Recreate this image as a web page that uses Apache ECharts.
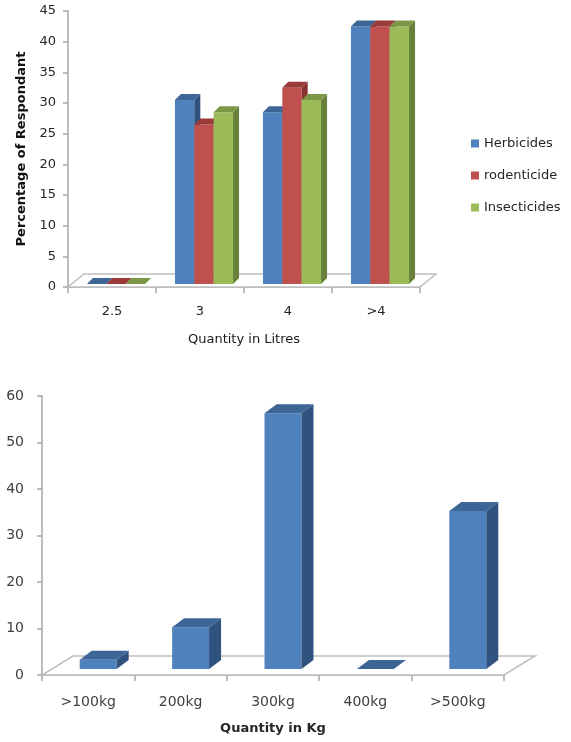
<!DOCTYPE html>
<html><head><meta charset="utf-8">
<script src="https://cdn.jsdelivr.net/npm/echarts@6/dist/echarts.min.js"></script>
<style>html,body{margin:0;padding:0;background:#fff}#c{width:571px;height:742px}</style>
</head><body><div id="c"></div>
<script>
// ---- data ----
const litreCats = ['2.5', '3', '4', '>4'];
const herbicides = [0, 30, 28, 42];
const rodenticide = [0, 26, 32, 42];
const insecticides = [0, 28, 30, 42];
const litreAxisMax = 45, litreAxisStep = 5;

const kgCats = ['>100kg', '200kg', '300kg', '400kg', '>500kg'];
const kgValues = [2, 9, 55, 0, 34];
const kgAxisMax = 60, kgAxisStep = 10;

// ---- styles ----
const FONT = '"DejaVu Sans", Verdana, sans-serif';
const palette = {
  blue:  {front: '#4F81BD', top: '#3D6697', side: '#30527F'},
  red:   {front: '#C0504D', top: '#9A3B39', side: '#853230'},
  green: {front: '#9BBB59', top: '#7C9746', side: '#67803A'}
};

function bar3d(o) {
  return function (params, api) {
    const cat = api.value(0), val = api.value(1);
    const base = api.coord([cat, 0]);
    const top = api.coord([cat, val]);
    const band = api.size([1, 0])[0];
    const bw = band * o.frac / o.n;
    const x0 = base[0] - band * o.frac / 2 + o.idx * bw + o.shift;
    const x1 = x0 + bw;
    const yb = base[1] - o.lift, yt = top[1] - o.lift;
    const c = o.col;
    const children = [];
    if (yb - yt > 0.5) {
      children.push({type: 'rect', shape: {x: x0, y: yt, width: bw, height: yb - yt},
        style: {fill: c.front}});
      children.push({type: 'polygon', shape: {points: [[x1, yt], [x1 + o.dx, yt - o.dy], [x1 + o.dx, yb - o.dy], [x1, yb]]},
        style: {fill: c.side}});
    }
    children.push({type: 'polygon', shape: {points: [[x0, yt], [x1, yt], [x1 + o.dx, yt - o.dy], [x0 + o.dx, yt - o.dy]]},
      style: {fill: c.top}});
    return {type: 'group', children};
  };
}

function floor(dx, dy) {
  return function (params, api) {
    const cs = params.coordSys;
    const x = cs.x, y = cs.y + cs.height, w = cs.width;
    return {type: 'polygon', z2: 0,
      shape: {points: [[x, y], [x + w, y], [x + w + dx, y - dy], [x + dx, y - dy]]},
      style: {fill: '#ffffff', stroke: '#BFBFBF', lineWidth: 1.5}};
  };
}

const litreSeries = [['Herbicides', herbicides, palette.blue], ['rodenticide', rodenticide, palette.red], ['Insecticides', insecticides, palette.green]];

const series = [
  {type: 'custom', xAxisIndex: 0, yAxisIndex: 0, data: [[0, 0]], renderItem: floor(16, 13), silent: true, clip: false, z: 1},
  {type: 'custom', xAxisIndex: 1, yAxisIndex: 1, data: [[0, 0]], renderItem: floor(31, 19), silent: true, clip: false, z: 1}
];
litreSeries.forEach(([name, vals, col], i) => {
  series.push({
    type: 'custom', name, xAxisIndex: 0, yAxisIndex: 0, clip: false, z: 3,
    itemStyle: {color: col.front},
    encode: {x: 0, y: 1},
    data: vals.map((v, k) => [k, v]),
    renderItem: bar3d({idx: i, n: 3, frac: 0.66, shift: 4, lift: 3, dx: 6, dy: 6, col})
  });
});
series.push({
  type: 'custom', name: 'kg', xAxisIndex: 1, yAxisIndex: 1, clip: false, z: 3,
  itemStyle: {color: palette.blue.front},
  encode: {x: 0, y: 1},
  data: kgValues.map((v, k) => [k, v]),
  renderItem: bar3d({idx: 0, n: 1, frac: 0.40, shift: 10, lift: 6, dx: 12, dy: 9, col: palette.blue})
});

const axisLineStyle = {lineStyle: {color: '#A6A6A6', width: 1.5}};

const option = {
  animation: false,
  backgroundColor: '#ffffff',
  grid: [
    {left: 68, top: 11, width: 352, height: 276},
    {left: 42, top: 396, width: 462, height: 279}
  ],
  xAxis: [
    {type: 'category', gridIndex: 0, data: litreCats, boundaryGap: true,
      axisLine: axisLineStyle, axisTick: {show: true, length: 6, lineStyle: {color: '#A6A6A6', width: 1.5}},
      axisLabel: {margin: 18, color: '#262626', fontFamily: FONT, fontSize: 13},
      name: 'Quantity in Litres', nameLocation: 'middle', nameGap: 46,
      nameTextStyle: {color: '#1a1a1a', fontFamily: FONT, fontSize: 13}},
    {type: 'category', gridIndex: 1, data: kgCats, boundaryGap: true,
      axisLine: axisLineStyle, axisTick: {show: true, length: 6, lineStyle: {color: '#A6A6A6', width: 1.5}},
      axisLabel: {margin: 20, color: '#404040', fontFamily: FONT, fontSize: 14},
      name: 'Quantity in Kg', nameLocation: 'middle', nameGap: 47,
      nameTextStyle: {color: '#262626', fontFamily: FONT, fontSize: 13, fontWeight: 'bold'}}
  ],
  yAxis: [
    {type: 'value', gridIndex: 0, min: 0, max: litreAxisMax, interval: litreAxisStep,
      axisLine: Object.assign({show: true}, axisLineStyle),
      axisTick: {show: true, length: 5, lineStyle: {color: '#A6A6A6', width: 1.5}},
      splitLine: {show: false},
      axisLabel: {margin: 12, color: '#262626', fontFamily: FONT, fontSize: 13},
      name: 'Percentage of Respondant', nameLocation: 'middle', nameGap: 38, nameRotate: 90,
      nameTextStyle: {color: '#111', fontFamily: FONT, fontSize: 13, fontWeight: 'bold'}},
    {type: 'value', gridIndex: 1, min: 0, max: kgAxisMax, interval: kgAxisStep,
      axisLine: Object.assign({show: true}, axisLineStyle),
      axisTick: {show: true, length: 5, lineStyle: {color: '#A6A6A6', width: 1.5}},
      splitLine: {show: false},
      axisLabel: {margin: 18, color: '#404040', fontFamily: FONT, fontSize: 14}}
  ],
  legend: {
    data: ['Herbicides', 'rodenticide', 'Insecticides'],
    orient: 'vertical', left: 466, top: 132, itemWidth: 8, itemHeight: 8, itemGap: 19,
    icon: 'rect', textStyle: {color: '#262626', fontFamily: FONT, fontSize: 13}
  },
  series
};

const chart = echarts.init(document.getElementById('c'), null, {renderer: 'canvas'});
chart.setOption(option);
</script>
</body></html>
